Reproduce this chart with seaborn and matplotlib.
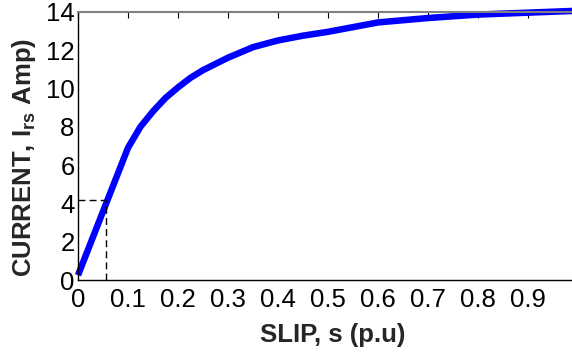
import matplotlib
matplotlib.use("Agg")
import matplotlib.pyplot as plt
import seaborn as sns

# slip vs rotor current
slip = [0, 0.1, 0.125, 0.15, 0.175, 0.2, 0.225, 0.25, 0.3, 0.35, 0.4, 0.45,
        0.5, 0.6, 0.7, 0.8, 0.9, 1.0]
current = [0.25, 6.9, 8.0, 8.8, 9.5, 10.05, 10.55, 10.95, 11.6, 12.15, 12.5,
           12.75, 12.95, 13.44, 13.67, 13.85, 13.95, 14.05]

# dashed marker at the operating point
mark_s = 0.055
mark_i = 4.15

xticks = [0, 0.1, 0.2, 0.3, 0.4, 0.5, 0.6, 0.7, 0.8, 0.9, 1]
xticklabels = ['0', '0.1', '0.2', '0.3', '0.4', '0.5', '0.6', '0.7', '0.8', '0.9', '1']
yticks = [0, 2, 4, 6, 8, 10, 12, 14]

sns.set_theme(style='white')
plt.rcParams['font.family'] = ['Liberation Sans', 'DejaVu Sans']
plt.rcParams['mathtext.fontset'] = 'custom'
plt.rcParams['mathtext.rm'] = 'Liberation Sans'
plt.rcParams['mathtext.bf'] = 'Liberation Sans:bold'

fig = plt.figure(figsize=(5.72, 3.52), dpi=100)
ax = fig.add_axes([78 / 572, 72 / 352, 500 / 572, 268.3 / 352])

sns.lineplot(x=slip, y=current, ax=ax, color='#0000ff', linewidth=4.7,
             estimator=None, clip_on=False, solid_capstyle='butt')

ax.plot([0, mark_s], [mark_i, mark_i], color='black', linestyle=(0, (5, 3)), linewidth=1)
ax.plot([mark_s, mark_s], [0, mark_i], color='black', linestyle=(0, (5, 3)), linewidth=1)

ax.set_xlim(0, 1)
ax.set_ylim(0, 14)
ax.set_xticks(xticks)
ax.set_xticklabels(xticklabels)
ax.set_yticks(yticks)

ax.tick_params(axis='both', direction='in', length=4, width=0.8,
               colors='black', labelsize=18.5, top=True, right=True)
ax.tick_params(axis='x', pad=6)
ax.tick_params(axis='y', pad=2.5)

for side in ['left', 'bottom', 'right']:
    ax.spines[side].set_color('black')
    ax.spines[side].set_linewidth(1)
ax.spines['top'].set_color('#808080')
ax.spines['top'].set_linewidth(1.5)

ax.set_xlabel('SLIP, s (p.u)', fontsize=18.5, fontweight='bold', va='center')
ax.xaxis.set_label_coords((333 - 78) / 500, (280 - 335) / 268.3)
ax.set_ylabel(r'CURRENT, I$_{\mathbf{rs}}$ Amp)', fontsize=18.5,
              fontweight='bold', va='center')
ax.yaxis.set_label_coords((24 - 78) / 500, (280 - 157) / 268.3)

fig.savefig('out.png', dpi=100)
